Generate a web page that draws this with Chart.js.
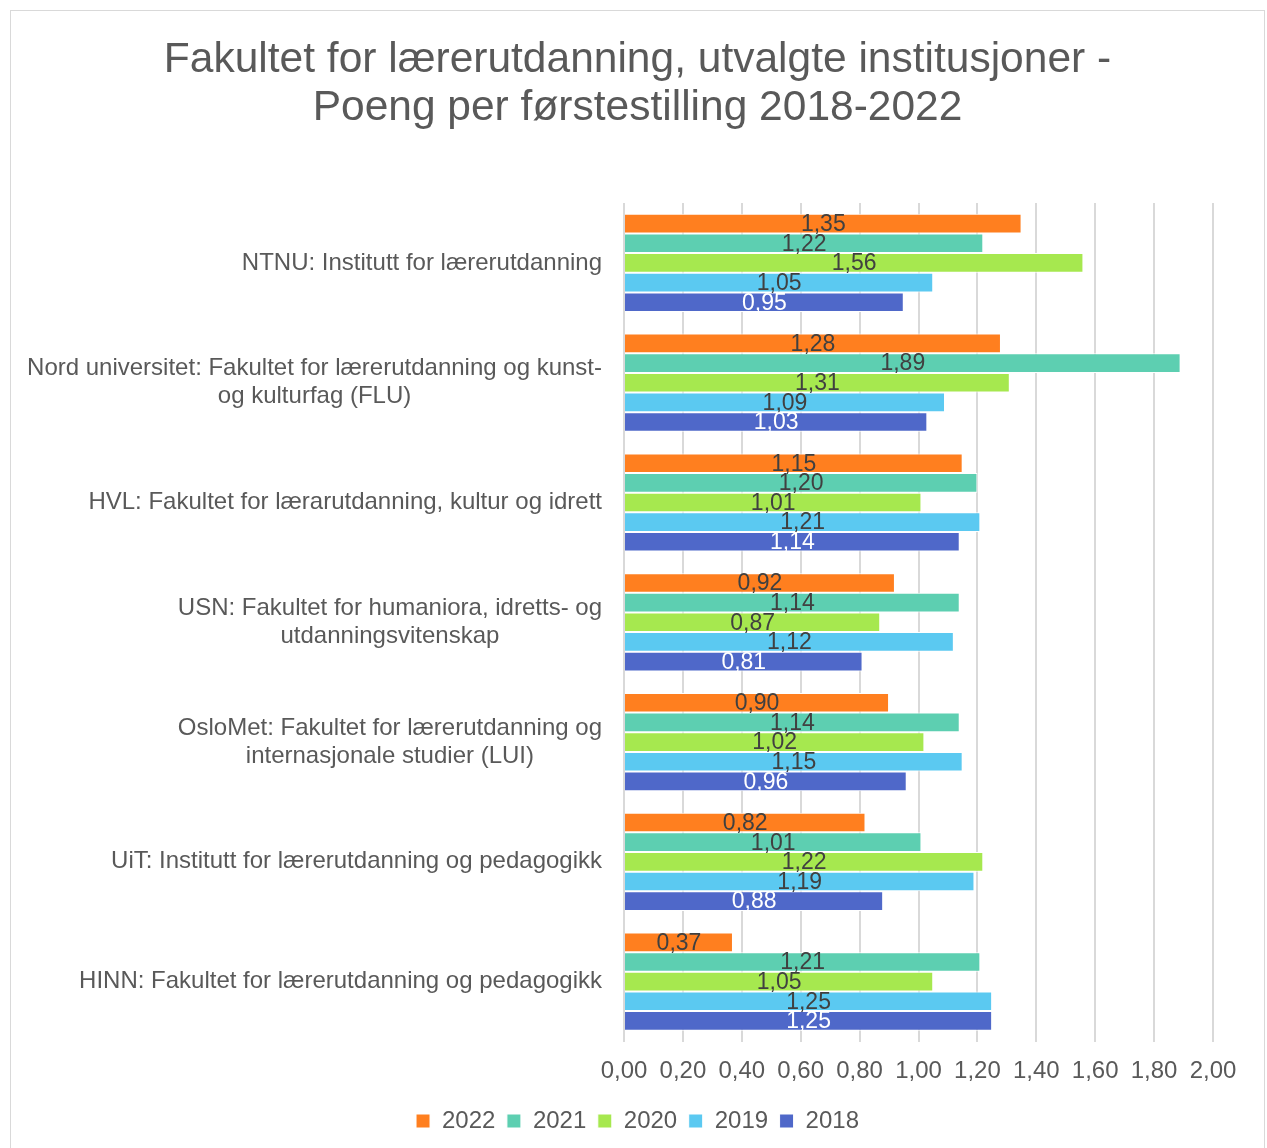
<!DOCTYPE html>
<html>
<head>
<meta charset="utf-8">
<script src="https://cdn.jsdelivr.net/npm/chart.js@4.4.0/dist/chart.umd.min.js"></script>
<style>
  body { margin: 0; background: #fff; }
  .wrap { position: absolute; left: 10px; top: 10px; width: 1253px; height: 1160px; border: 1px solid #d9d9d9; }
  canvas { display: block; }
</style>
</head>
<body>
<div class="wrap"><canvas id="chart" width="1253" height="1137"></canvas></div>
<script>
const categories = [
  ['NTNU: Institutt for lærerutdanning'],
  ['Nord universitet: Fakultet for lærerutdanning og kunst-', 'og kulturfag (FLU)'],
  ['HVL: Fakultet for lærarutdanning, kultur og idrett'],
  ['USN: Fakultet for humaniora, idretts- og', 'utdanningsvitenskap'],
  ['OsloMet: Fakultet for lærerutdanning og', 'internasjonale studier (LUI)'],
  ['UiT: Institutt for lærerutdanning og pedagogikk'],
  ['HINN: Fakultet for lærerutdanning og pedagogikk']
];
const years = ['2022', '2021', '2020', '2019', '2018'];
const v2022 = [1.35, 1.28, 1.15, 0.92, 0.90, 0.82, 0.37];
const v2021 = [1.22, 1.89, 1.20, 1.14, 1.14, 1.01, 1.21];
const v2020 = [1.56, 1.31, 1.01, 0.87, 1.02, 1.22, 1.05];
const v2019 = [1.05, 1.09, 1.21, 1.12, 1.15, 1.19, 1.25];
const v2018 = [0.95, 1.03, 1.14, 0.81, 0.96, 0.88, 1.25];
const xTicks = [0, 0.2, 0.4, 0.6, 0.8, 1.0, 1.2, 1.4, 1.6, 1.8, 2.0];

const colors = ['#ff7f1f', '#5dcfb1', '#a6e84f', '#5bc9f1', '#4f68c9'];
const labelColors = ['#404040', '#404040', '#404040', '#404040', '#ffffff'];
const series = [v2022, v2021, v2020, v2019, v2018];
const FONT = "'Liberation Sans', Arial, sans-serif";

const fmt = (v) => v.toFixed(2).replace('.', ',');

// value labels centered inside each bar
const barLabels = {
  id: 'barLabels',
  afterDatasetsDraw(chart) {
    const ctx = chart.ctx;
    ctx.save();
    ctx.font = '23px ' + FONT;
    ctx.textAlign = 'center';
    ctx.textBaseline = 'middle';
    chart.data.datasets.forEach((ds, i) => {
      const meta = chart.getDatasetMeta(i);
      meta.data.forEach((bar, j) => {
        ctx.fillStyle = labelColors[i];
        ctx.fillText(fmt(ds.data[j]), (bar.x + bar.base) / 2, bar.y + 1);
      });
    });
    ctx.restore();
  }
};

// category labels: right aligned block, lines centered within it
const catLabels = {
  id: 'catLabels',
  afterDraw(chart) {
    const ctx = chart.ctx;
    const yScale = chart.scales.y;
    const right = chart.chartArea.left - 22;
    const lh = 28;
    ctx.save();
    ctx.font = '24px ' + FONT;
    ctx.fillStyle = '#595959';
    ctx.textAlign = 'center';
    ctx.textBaseline = 'middle';
    categories.forEach((lines, i) => {
      const cy = yScale.getPixelForTick(i);
      const w = Math.max(...lines.map(l => ctx.measureText(l).width));
      const cx = right - w / 2;
      lines.forEach((l, k) => {
        ctx.fillText(l, cx, cy + (k - (lines.length - 1) / 2) * lh);
      });
    });
    ctx.restore();
  }
};

new Chart(document.getElementById('chart'), {
  type: 'bar',
  data: {
    labels: categories,
    datasets: years.map((y, i) => ({
      label: y,
      data: series[i],
      backgroundColor: colors[i],
      borderColor: '#ffffff',
      borderWidth: 1,
      categoryPercentage: 0.82,
      barPercentage: 1.0
    }))
  },
  options: {
    indexAxis: 'y',
    responsive: false,
    animation: false,
    layout: { padding: { left: 51, right: 51, top: 0, bottom: 5 } },
    scales: {
      x: {
        min: 0,
        max: 2,
        afterBuildTicks: (scale) => { scale.ticks = xTicks.map(v => ({ value: v })); },
        afterFit: (scale) => { scale.height = 56; },
        grid: { color: '#d9d9d9', lineWidth: 2, drawTicks: false },
        border: { display: false },
        ticks: {
          padding: 15,
          color: '#595959',
          font: { family: FONT, size: 24 },
          callback: (v) => fmt(v)
        }
      },
      y: {
        afterFit: (scale) => { scale.width = 562; },
        grid: { display: false },
        border: { display: false },
        ticks: { display: false }
      }
    },
    plugins: {
      title: {
        display: true,
        text: ['Fakultet for lærerutdanning, utvalgte institusjoner -', 'Poeng per førstestilling 2018-2022'],
        color: '#595959',
        font: { family: FONT, size: 42.5, weight: 'normal', lineHeight: 1.13 },
        padding: { top: 25, bottom: 71 }
      },
      legend: {
        position: 'bottom',
        labels: {
          color: '#595959',
          font: { family: FONT, size: 24 },
          boxWidth: 14,
          boxHeight: 14,
          padding: 11.5
        }
      },
      tooltip: { enabled: false }
    }
  },
  plugins: [barLabels, catLabels]
});
</script>
</body>
</html>
